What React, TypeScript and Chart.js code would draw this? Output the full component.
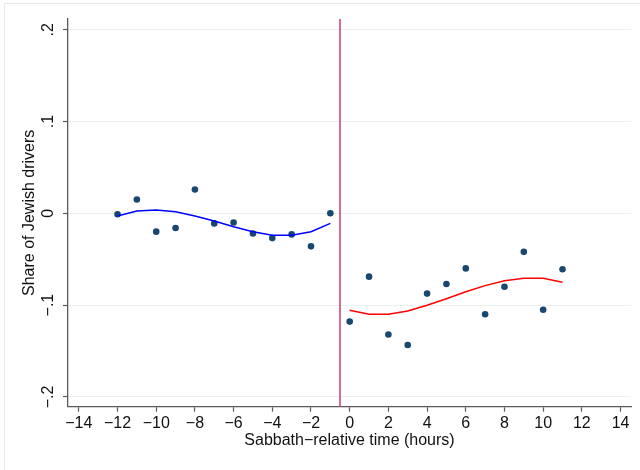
import { useEffect, useRef } from "react";
import { Chart, registerables } from "chart.js";

Chart.register(...registerables);

// Hours relative to Sabbath start, and the share of Jewish drivers in each hour
const hoursBefore = [-12, -11, -10, -9, -8, -7, -6, -5, -4, -3, -2, -1];
const shareBefore = [-0.001, 0.015, -0.02, -0.016, 0.026, -0.011, -0.01, -0.022, -0.027, -0.023, -0.036, 0.0];
const fitBefore = [-0.003, 0.0025, 0.0036, 0.0018, -0.003, -0.0084, -0.0146, -0.02, -0.024, -0.024, -0.02, -0.011];

const hoursAfter = [0, 1, 2, 3, 4, 5, 6, 7, 8, 9, 10, 11];
const shareAfter = [-0.118, -0.069, -0.132, -0.1435, -0.0875, -0.077, -0.06, -0.11, -0.08, -0.042, -0.105, -0.061];
const fitAfter = [-0.1057, -0.11, -0.11, -0.1064, -0.1002, -0.093, -0.0854, -0.0788, -0.0734, -0.0708, -0.0708, -0.0752];

const cutoffHour = -0.5;

const xTicks = [-14, -12, -10, -8, -6, -4, -2, 0, 2, 4, 6, 8, 10, 12, 14];
const xTickLabels = ["−14", "−12", "−10", "−8", "−6", "−4", "−2", "0", "2", "4", "6", "8", "10", "12", "14"];
const yTicks = [-0.2, -0.1, 0, 0.1, 0.2];
const yTickLabels = ["−.2", "−.1", "0", ".1", ".2"];

const xTitle = "Sabbath−relative time (hours)";
const yTitle = "Share of Jewish drivers";

const X_MIN = -14.56;
const X_MAX = 14.54;
const Y_MIN = -0.2107;
const Y_MAX = 0.2117;

const FONT = "'Liberation Sans', Arial, Helvetica, sans-serif";
const AXIS_COLOR = "#5a5a5a";
const TEXT_COLOR = "#111111";

const toPoints = (xs: number[], ys: number[]) => xs.map((x, i) => ({ x, y: ys[i] }));

// Draws the rotated y tick labels, the y title and the outer graph frame
const yAxisText = {
  id: "yAxisText",
  afterDraw(chart: any) {
    const { ctx, scales, chartArea } = chart;
    const y = scales.y;
    ctx.save();
    ctx.fillStyle = TEXT_COLOR;
    ctx.font = `16px ${FONT}`;
    ctx.textAlign = "center";
    ctx.textBaseline = "middle";
    yTicks.forEach((v, i) => {
      const py = y.getPixelForValue(v);
      ctx.save();
      ctx.translate(49, py);
      ctx.rotate(-Math.PI / 2);
      ctx.fillText(yTickLabels[i], 0, 0);
      ctx.restore();
    });
    ctx.save();
    ctx.translate(30, (chartArea.top + chartArea.bottom) / 2);
    ctx.rotate(-Math.PI / 2);
    ctx.fillText(yTitle, 0, 0);
    ctx.restore();

    // light outer frame
    ctx.strokeStyle = "#e3eaed";
    ctx.lineWidth = 1;
    ctx.beginPath();
    ctx.moveTo(4.5, 470);
    ctx.lineTo(4.5, 3.5);
    ctx.lineTo(640, 3.5);
    ctx.stroke();
    ctx.restore();
  },
};

export default function App() {
  const canvasRef = useRef<HTMLCanvasElement | null>(null);

  useEffect(() => {
    const canvas = canvasRef.current;
    if (!canvas) return;
    const chart = new Chart(canvas, {
      type: "scatter",
      data: {
        datasets: [
          {
            type: "line",
            label: "cutoff",
            data: [
              { x: cutoffHour, y: Y_MIN },
              { x: cutoffHour, y: Y_MAX },
            ],
            borderColor: "#d6476c",
            borderWidth: 1.6,
            pointRadius: 0,
            fill: false,
          },
          {
            type: "line",
            label: "fit before",
            data: toPoints(hoursBefore, fitBefore),
            borderColor: "#0000ff",
            borderWidth: 1.5,
            pointRadius: 0,
            tension: 0,
            fill: false,
          },
          {
            type: "line",
            label: "fit after",
            data: toPoints(hoursAfter, fitAfter),
            borderColor: "#ff0000",
            borderWidth: 1.5,
            pointRadius: 0,
            tension: 0,
            fill: false,
          },
          {
            label: "before",
            data: toPoints(hoursBefore, shareBefore),
            backgroundColor: "#1a476f",
            borderColor: "#1a476f",
            pointRadius: 3.3,
            borderWidth: 0,
          },
          {
            label: "after",
            data: toPoints(hoursAfter, shareAfter),
            backgroundColor: "#1a476f",
            borderColor: "#1a476f",
            pointRadius: 3.3,
            borderWidth: 0,
          },
        ],
      },
      options: {
        responsive: false,
        animation: false,
        layout: { padding: { left: 0, right: 9, top: 19, bottom: 0 } },
        plugins: {
          legend: { display: false },
          tooltip: { enabled: false },
        },
        scales: {
          x: {
            type: "linear",
            min: X_MIN,
            max: X_MAX,
            afterBuildTicks: (s: any) => {
              s.ticks = xTicks.map((v) => ({ value: v }));
            },
            afterFit: (s: any) => {
              s.height = 63.3;
            },
            ticks: {
              autoSkip: false,
              maxRotation: 0,
              minRotation: 0,
              padding: 2,
              color: TEXT_COLOR,
              font: { family: FONT, size: 16 },
              callback: (v: any) => {
                const i = xTicks.indexOf(Number(v));
                return i >= 0 ? xTickLabels[i] : "";
              },
            },
            grid: {
              display: true,
              drawOnChartArea: false,
              drawTicks: true,
              tickLength: 5,
              tickColor: AXIS_COLOR,
              tickWidth: 1.2,
            },
            border: { display: true, color: AXIS_COLOR, width: 1.3 },
            title: {
              display: true,
              text: xTitle,
              color: TEXT_COLOR,
              font: { family: FONT, size: 16 },
              padding: { top: 0, bottom: 20.2 },
            },
          },
          y: {
            type: "linear",
            min: Y_MIN,
            max: Y_MAX,
            afterBuildTicks: (s: any) => {
              s.ticks = yTicks.map((v) => ({ value: v }));
            },
            afterFit: (s: any) => {
              s.width = 68;
            },
            ticks: { display: false },
            grid: {
              display: true,
              drawOnChartArea: true,
              drawTicks: true,
              tickLength: 5,
              color: "#eaf1f3",
              lineWidth: 1,
              tickColor: AXIS_COLOR,
              tickWidth: 1.2,
            },
            border: { display: true, color: AXIS_COLOR, width: 1.3 },
          },
        },
      },
      plugins: [yAxisText],
    } as any);
    return () => chart.destroy();
  }, []);

  return (
    <div style={{ position: "fixed", left: 0, top: 0, width: 640, height: 470, background: "#ffffff" }}>
      <canvas ref={canvasRef} width={640} height={470} style={{ display: "block" }} />
    </div>
  );
}
